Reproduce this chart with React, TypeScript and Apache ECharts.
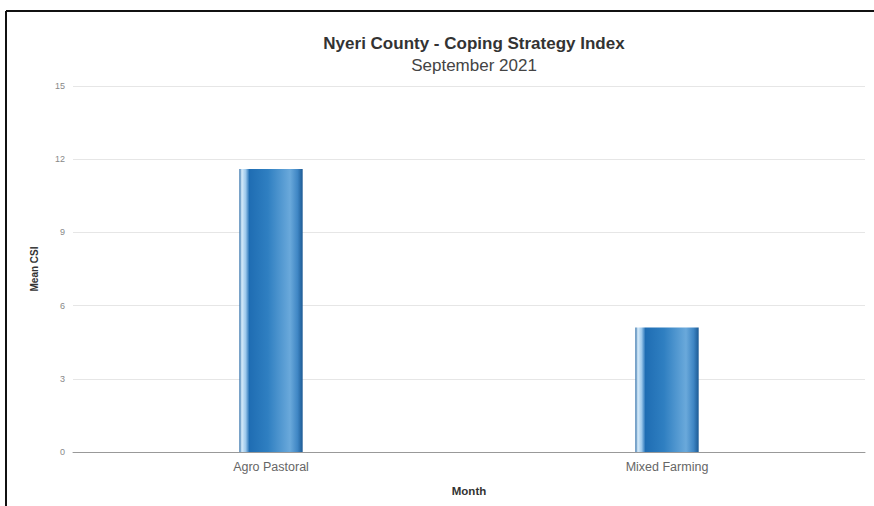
import React, { useEffect, useRef } from "react";
import * as echarts from "echarts";

const categories = ["Agro Pastoral", "Mixed Farming"];
const meanCsi = [11.6, 5.1];
const yTicks = { min: 0, max: 15, interval: 3 };

export default function App() {
  const ref = useRef<HTMLDivElement>(null);
  useEffect(() => {
    document.body.style.margin = "0";
    const chart = echarts.init(ref.current!, null, { renderer: "svg" });
    const barColor = new echarts.graphic.LinearGradient(0, 0, 1, 0, [
      { offset: 0, color: "#2f6ea8" },
      { offset: 0.04, color: "#d6ebfa" },
      { offset: 0.1, color: "#9cc8ec" },
      { offset: 0.16, color: "#1f6db3" },
      { offset: 0.45, color: "#2f7fc1" },
      { offset: 0.8, color: "#6aa9db" },
      { offset: 0.92, color: "#3f86c4" },
      { offset: 1, color: "#1c5a94" },
    ]);
    chart.setOption({
      animation: false,
      backgroundColor: "#ffffff",
      title: {
        text: "Nyeri County - Coping Strategy Index",
        subtext: "September 2021",
        left: 469,
        textAlign: "center",
        top: 30,
        itemGap: 5,
        textStyle: { fontFamily: "Liberation Sans", fontSize: 17, fontWeight: "bold", color: "#333" },
        subtextStyle: { fontFamily: "Liberation Sans", fontSize: 17, color: "#444" },
      },
      grid: { left: 73, right: 9, top: 86, bottom: 54, containLabel: false },
      xAxis: {
        type: "category",
        data: categories,
        name: "Month",
        nameLocation: "middle",
        nameGap: 33,
        nameTextStyle: { fontFamily: "Liberation Sans", fontSize: 11.5, fontWeight: "bold", color: "#333" },
        axisLine: { lineStyle: { color: "#999", width: 1 } },
        axisTick: { show: false },
        axisLabel: { fontFamily: "Liberation Sans", fontSize: 12.5, color: "#666", margin: 8 },
      },
      yAxis: {
        type: "value",
        min: yTicks.min,
        max: yTicks.max,
        interval: yTicks.interval,
        name: "Mean CSI",
        nameLocation: "middle",
        nameGap: 34,
        nameTextStyle: { fontFamily: "Liberation Sans", fontSize: 10, fontWeight: "bold", color: "#333" },
        axisLine: { show: false },
        axisTick: { show: false },
        axisLabel: { fontFamily: "Liberation Sans", fontSize: 9, color: "#888", margin: 8 },
        splitLine: { lineStyle: { color: "#e6e6e6", width: 1 } },
      },
      series: [
        {
          type: "bar",
          data: meanCsi,
          barWidth: "16%",
          itemStyle: { color: barColor },
        },
      ],
      graphic: [
        { type: "line", shape: { x1: 6, y1: 11, x2: 874, y2: 11 }, style: { stroke: "#111", lineWidth: 2 } },
        { type: "line", shape: { x1: 6, y1: 11, x2: 6, y2: 506 }, style: { stroke: "#111", lineWidth: 2 } },
      ],
    });
    return () => chart.dispose();
  }, []);
  return <div ref={ref} style={{ width: 874, height: 506 }} />;
}
